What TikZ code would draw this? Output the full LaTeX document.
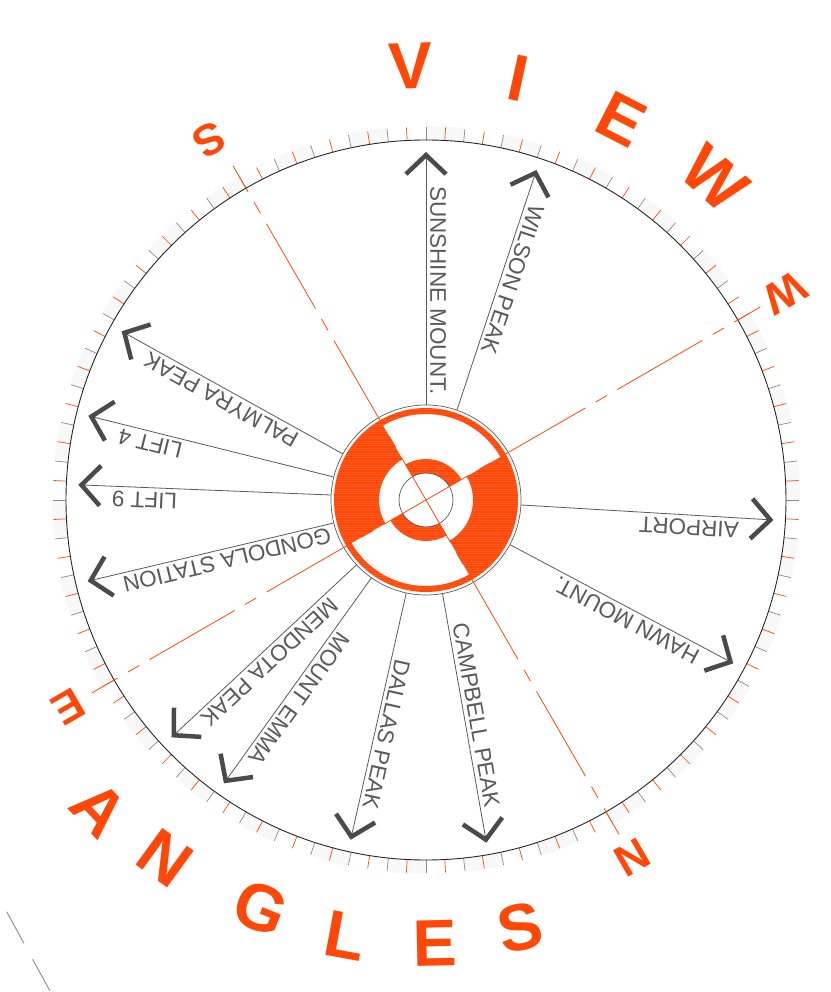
\documentclass[tikz,border=0pt]{standalone}
\usepackage{fontspec}
\setmainfont{Liberation Sans}
\usetikzlibrary{arrows.meta}
\definecolor{vorange}{HTML}{FF4808}
\definecolor{vlight}{HTML}{FF8A5C}
\definecolor{vgray}{HTML}{4A4A4A}
\definecolor{lgray}{HTML}{5A5A5A}
\definecolor{tgray}{HTML}{8A8A8A}
\definecolor{band}{HTML}{F8F8F8}
\tikzset{
  shaft/.style={draw=lgray,line width=0.8pt,-{Straight Barb[length=19pt,width=40pt,line width=4.5pt,color=vgray]}},
  lbl/.style={font=\fontsize{22.5}{26}\selectfont,text=lgray,inner sep=4pt},
  bigletter/.style={font=\fontsize{66}{66}\selectfont\bfseries,text=vorange,inner sep=0pt},
  compass/.style={font=\fontsize{44}{44}\selectfont\bfseries,text=vorange,inner sep=0pt,rotate=-150},
  axisline/.style={draw=vorange,line width=0.8pt,dash pattern=on 98pt off 12pt on 13pt off 12pt,dash phase=68pt},
  tickgray/.style={draw=tgray,line width=0.7pt},
  tickorange/.style={draw=vorange,line width=0.7pt},
  hubshape/.style={insert path={
    (0:92pt) arc[start angle=0,end angle=360,radius=92pt] -- (360:86pt) arc[start angle=360,end angle=0,radius=86pt] -- cycle
    (120:47pt) arc[start angle=120,end angle=210,radius=47pt] -- (210:86pt) arc[start angle=210,end angle=120,radius=86pt] -- cycle
    (300:47pt) arc[start angle=300,end angle=390,radius=47pt] -- (390:86pt) arc[start angle=390,end angle=300,radius=86pt] -- cycle
    (30:27pt) arc[start angle=30,end angle=120,radius=27pt] -- (120:41pt) arc[start angle=120,end angle=30,radius=41pt] -- cycle
    (210:27pt) arc[start angle=210,end angle=300,radius=27pt] -- (300:41pt) arc[start angle=300,end angle=210,radius=41pt] -- cycle}},
}

\begin{document}
\begin{tikzpicture}[x=1pt,y=1pt]
\useasboundingbox (-426,-492) rectangle (404,500);

% dial
\foreach \a [evaluate=\a as \b using \a+6] in {96,108,...,444}
  \fill[band] (\a:360pt) arc[start angle=\a,end angle=\b,radius=360pt] -- (\b:374pt) arc[start angle=\b,end angle=\a,radius=374pt] -- cycle;
\foreach \a in {0,6,...,354} \draw[tickgray] (\a:360pt) -- (\a:373pt);
\foreach \a in {3,9,...,357} \draw[tickorange] (\a:360pt) -- (\a:373pt);
\draw[draw=black!85,line width=0.9pt] (0,0) circle (360pt);

% hub
\fill[vorange,hubshape];
\begin{scope}
  \clip[hubshape];
  \foreach \y in {-92,-89.6,...,92} \draw[vlight,line width=0.5pt,opacity=0.3] (-95,\y) -- (95,\y);
\end{scope}
\node[circle,draw=lgray,line width=0.7pt,minimum size=190pt,inner sep=0pt] (hub) at (0,0) {};
\node[circle,draw=lgray,line width=0.7pt,minimum size=54pt,inner sep=0pt] (core) at (0,0) {};

\coordinate (axS) at (120:386pt);
\coordinate (axN) at (300:386pt);
\coordinate (axW) at (30:386pt);
\coordinate (axE) at (210:386pt);
\draw[axisline] (axS) -- (axN);
\draw[axisline] (axE) -- (axW);

% view lines
\coordinate (sunshine) at (90:348pt);
\coordinate (wilson) at (71.5:348pt);
\coordinate (airport) at (-3.3:348pt);
\coordinate (hawn) at (-28:348pt);
\coordinate (campbell) at (-80:348pt);
\coordinate (dallas) at (-102.5:348pt);
\coordinate (emma) at (-125.5:348pt);
\coordinate (mendota) at (-137:348pt);
\coordinate (gondola) at (-166.5:348pt);
\coordinate (liftnine) at (177.5:348pt);
\coordinate (liftfour) at (166:348pt);
\coordinate (palmyra) at (151:348pt);
\draw[shaft] (hub.90) -- (sunshine);
\draw[shaft] (hub.71.5) -- (wilson);
\draw[shaft] (hub.-3.3) -- (airport);
\draw[shaft] (hub.-28) -- (hawn);
\draw[shaft] (hub.-80) -- (campbell);
\draw[shaft] (hub.-102.5) -- (dallas);
\draw[shaft] (hub.-125.5) -- (emma);
\draw[shaft] (hub.-137) -- (mendota);
\draw[shaft] (hub.-166.5) -- (gondola);
\draw[shaft] (hub.177.5) -- (liftnine);
\draw[shaft] (hub.166) -- (liftfour);
\draw[shaft] (hub.151) -- (palmyra);

\node[lbl,rotate=270,anchor=south west] (sunshine-l) at (90:318pt) {SUNSHINE MOUNT.};
\node[lbl,rotate=251.5,anchor=south west] (wilson-l) at (71.5:318pt) {WILSON PEAK};
\node[lbl,rotate=176.7,anchor=south west] (airport-l) at (-3.3:318pt) {AIRPORT};
\node[lbl,rotate=152,anchor=south west] (hawn-l) at (-28:318pt) {HAWN MOUNT.};
\node[lbl,rotate=-80,anchor=south east] (campbell-l) at (-80:318pt) {CAMPBELL PEAK};
\node[lbl,rotate=-102.5,anchor=south east] (dallas-l) at (-102.5:318pt) {DALLAS PEAK};
\node[lbl,rotate=-125.5,anchor=south east] (emma-l) at (-125.5:318pt) {MOUNT EMMA};
\node[lbl,rotate=-137,anchor=south east] (mendota-l) at (-137:318pt) {MENDOTA PEAK};
\node[lbl,rotate=-166.5,anchor=south east] (gondola-l) at (-166.5:318pt) {GONDOLA STATION};
\node[lbl,rotate=177.5,anchor=south east] (liftnine-l) at (177.5:318pt) {LIFT 9};
\node[lbl,rotate=166,anchor=south east] (liftfour-l) at (166:318pt) {LIFT 4};
\node[lbl,rotate=151,anchor=south east] (palmyra-l) at (151:318pt) {PALMYRA PEAK};

% compass
\node[compass] (north) at (-60:413pt) {N};
\node[compass] (east) at (210:413pt) {E};
\node[compass] (south) at (121:420pt) {S};
\node[compass] (west) at (30:415pt) {W};

% title
\node[bigletter,rotate=2] (t-v) at (92:434pt) {V};
\node[bigletter,rotate=-12.3] (t-i) at (77.7:432pt) {I};
\node[bigletter,rotate=-27.2] (t-e) at (62.8:428pt) {E};
\node[bigletter,rotate=-42] (t-w) at (48:432pt) {W};
\node[bigletter,rotate=313.4] (t-a) at (223.4:450pt) {A};
\node[bigletter,rotate=324] (t-n) at (234:443pt) {N};
\node[bigletter,rotate=338] (t-g) at (248:440pt) {G};
\node[bigletter,rotate=349.5] (t-l) at (259.5:443pt) {L};
\node[bigletter,rotate=1.2] (t-e2) at (271.2:443pt) {E};
\node[bigletter,rotate=12.4] (t-s) at (282.4:438pt) {S};

\coordinate (strayA) at (-419.3,-411.7);
\coordinate (strayB) at (-370,-502);
\draw[draw=tgray,line width=0.9pt,dash pattern=on 36pt off 18pt] (strayA) -- (strayB);
\end{tikzpicture}
\end{document}
